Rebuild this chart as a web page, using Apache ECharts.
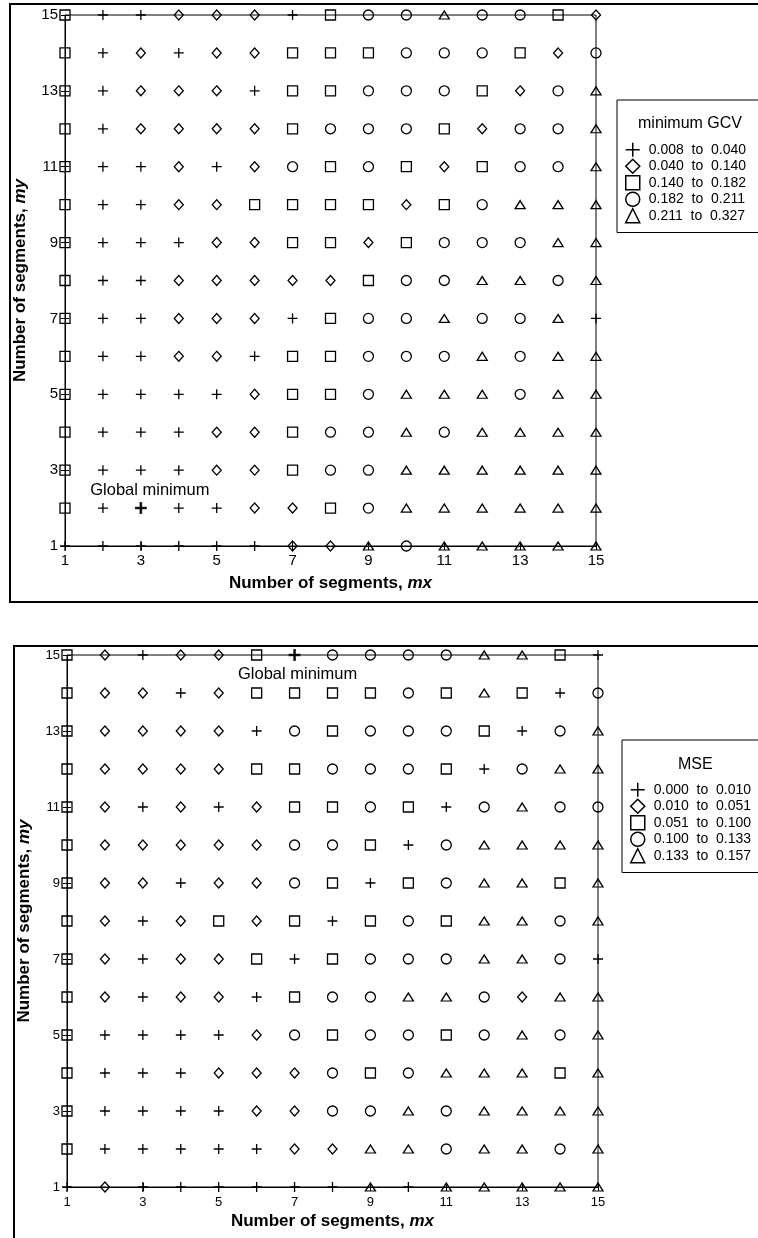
<!DOCTYPE html>
<html>
<head>
<meta charset="utf-8">
<script src="https://cdn.jsdelivr.net/npm/echarts@6/dist/echarts.min.js"></script>
<style>
html,body{margin:0;padding:0;background:#fff;}
#c{width:758px;height:1238px;}
</style>
</head>
<body>
<div id="c"></div>
<script>
// ---------------- DATA ----------------
const mxValues = [1,2,3,4,5,6,7,8,9,10,11,12,13,14,15];
const myValues = [15,14,13,12,11,10,9,8,7,6,5,4,3,2,1];
// class codes: P = plus, D = diamond, S = square, C = circle, T = triangle
const classCodes = ['P','D','S','C','T'];

const gcvTitle = 'minimum GCV';
const gcvRanges = ['0.008  to  0.040','0.040  to  0.140','0.140  to  0.182','0.182  to  0.211','0.211  to  0.327'];
// rows: my = 15 ... 1, characters: mx = 1 ... 15
const gcvRows = [
  'SPPDDDPSCCTCCSD',
  'SPDPDDSSSCCCSDC',
  'SPDDDPSSCCCSDCT',
  'SPDDDDSCCCSDCCT',
  'SPPDPDCSCSDSCCT',
  'SPPDDSSSSDSCTTT',
  'SPPPDDSSDSCCCTT',
  'SPPDDDDDSCCTTCT',
  'SPPDDDPSCCTCCTP',
  'SPPDDPSSCCCTCTT',
  'SPPPPDSSCTTTCTT',
  'SPPPDDSCCTCTTTT',
  'SPPPDDSCCTTTTTT',
  'SPPPPDDSCTTTTTT',
  'PPPPPPDDTCTTTTT'
];
const gcvGlobalMin = [3, 2];

const mseTitle = 'MSE';
const mseRanges = ['0.000  to  0.010','0.010  to  0.051','0.051  to  0.100','0.100  to  0.133','0.133  to  0.157'];
const mseRows = [
  'SDPDDSPCCCCTTSP',
  'SDDPDSSSSCSTSPC',
  'SDDDDPCSCCCSPCT',
  'SDDDDSSCCCSPCTT',
  'SDPDPDSSCSPCTCC',
  'SDDDDDCCSPCTTTT',
  'SDDPDDCSPSCTTST',
  'SDPDSDSPSCSTTCT',
  'SDPDDSPSCCCTTCP',
  'SDPDDPSCCTTCDTT',
  'SPPPPDCSCCSCTCT',
  'SPPPDDDCSCTTTST',
  'SPPPPDDCCTCTTTT',
  'SPPPPPDDTTCTTCT',
  'PDPPPPPPTPTTTTT'
];
const mseGlobalMin = [7, 15];

const axisTitleX = 'Number of segments, ';
const axisTitleXItalic = 'mx';
const axisTitleY = 'Number of segments, ';
const axisTitleYItalic = 'my';
const globalMinText = 'Global minimum';

// ---------------- STYLE ----------------
const FONT = '"Liberation Sans", Arial, Helvetica, sans-serif';
const symbolDefs = [
  { symbol: 'path://M5,0L5,10M0,5L10,5', size: 10 },
  { symbol: 'diamond', size: [9, 10] },
  { symbol: 'rect', size: 10 },
  { symbol: 'circle', size: 10 },
  { symbol: 'triangle', size: [10, 8] }
];

function cellsOf(rows, code) {
  const out = [];
  rows.forEach((row, r) => {
    for (let c = 0; c < row.length; c++) {
      if (row[c] === code) out.push([mxValues[c], myValues[r]]);
    }
  });
  return out;
}

const charts = [
  { rows: gcvRows, ranges: gcvRanges, gmin: gcvGlobalMin, labelPos: 'top', labelOffset: [9, 3] },
  { rows: mseRows, ranges: mseRanges, gmin: mseGlobalMin, labelPos: 'bottom', labelOffset: [3, -1] }
];

const grids = [
  { left: 65, top: 15, width: 531, height: 531 },
  { left: 67, top: 655, width: 531, height: 532 }
];
const tickFont = [15, 13];
const xNameGap = [29, 26];
const yNameGap = [36, 34];
const xLabelMargin = [7, 9];

function axisName(t, ti) {
  return '{b|' + t + '}{bi|' + ti + '}';
}
const nameRich = {
  b: { fontWeight: 'bold', fontSize: 17, fontFamily: FONT, color: '#000' },
  bi: { fontWeight: 'bold', fontStyle: 'italic', fontSize: 17, fontFamily: FONT, color: '#000' }
};

const xAxes = [], yAxes = [], series = [];
grids.forEach((g, gi) => {
  xAxes.push({
    type: 'value', gridIndex: gi, min: 1, max: 15, interval: 2, position: 'bottom',
    axisLine: { onZero: false, lineStyle: { color: '#000', width: 1 } },
    axisTick: { length: 4, lineStyle: { color: '#000', width: 1 } },
    axisLabel: { color: '#000', fontSize: tickFont[gi], fontFamily: FONT, margin: xLabelMargin[gi] },
    splitLine: { show: false },
    name: axisName(axisTitleX, axisTitleXItalic), nameLocation: 'middle', nameGap: xNameGap[gi],
    nameTextStyle: { rich: nameRich }
  });
  xAxes.push({
    type: 'value', gridIndex: gi, min: 1, max: 15, interval: 2, position: 'bottom', offset: 0,
    axisLine: { show: false, onZero: false },
    axisTick: { inside: true, length: 4, lineStyle: { color: '#000', width: 1 } },
    axisLabel: { show: false }, splitLine: { show: false }
  });
  yAxes.push({
    type: 'value', gridIndex: gi, min: 1, max: 15, interval: 2, position: 'left',
    axisLine: { onZero: false, lineStyle: { color: '#000', width: 1 } },
    axisTick: { length: 4, lineStyle: { color: '#000', width: 1 } },
    axisLabel: { color: '#000', fontSize: tickFont[gi], fontFamily: FONT, margin: 7 },
    splitLine: { show: false },
    name: axisName(axisTitleY, axisTitleYItalic), nameLocation: 'middle', nameGap: yNameGap[gi],
    nameRotate: 90, nameTextStyle: { rich: nameRich }
  });
  yAxes.push({
    type: 'value', gridIndex: gi, min: 1, max: 15, interval: 2, position: 'left', offset: 0,
    axisLine: { show: false, onZero: false },
    axisTick: { inside: true, length: 4, lineStyle: { color: '#000', width: 1 } },
    axisLabel: { show: false }, splitLine: { show: false }
  });
});

charts.forEach((ch, ci) => {
  classCodes.forEach((code, k) => {
    series.push({
      type: 'scatter', name: ch.ranges[k],
      xAxisIndex: ci * 2, yAxisIndex: ci * 2,
      symbol: symbolDefs[k].symbol, symbolSize: symbolDefs[k].size,
      itemStyle: { color: 'transparent', borderColor: '#000', borderWidth: 1.3, opacity: 1 },
      emphasis: { disabled: true },
      data: cellsOf(ch.rows, code),
      z: 3
    });
  });
  series.push({
    type: 'scatter', name: 'global-min-' + ci,
    xAxisIndex: ci * 2, yAxisIndex: ci * 2,
    symbol: symbolDefs[0].symbol, symbolSize: 12,
    itemStyle: { color: '#000', borderColor: '#000', borderWidth: 2.6 },
    emphasis: { disabled: true },
    label: {
      show: true, position: ch.labelPos, distance: 5, offset: ch.labelOffset,
      formatter: globalMinText, color: '#000', opacity: 1, fontSize: 16.5, fontFamily: FONT,
      textBorderWidth: 0
    },
    data: [ch.gmin], z: 4
  });
});

const legendCommon = {
  orient: 'vertical', itemWidth: 14, itemHeight: 14, itemGap: 1,
  borderColor: '#000', borderWidth: 1, selectedMode: false,
  textStyle: { fontSize: 14, lineHeight: 14, color: '#000', fontFamily: FONT, padding: [0, 0, 0, 4] },
  itemStyle: { borderWidth: 1.5 }
};

const option = {
  backgroundColor: '#fff',
  animation: false,
  grid: grids.map(g => Object.assign({ show: true, borderColor: '#000', borderWidth: 1, backgroundColor: 'transparent' }, g)),
  xAxis: xAxes,
  yAxis: yAxes,
  series: series,
  title: [
    { text: gcvTitle, left: 638, top: 116, padding: 0, textStyle: { fontSize: 16, fontWeight: 'normal', color: '#000', fontFamily: FONT } },
    { text: mseTitle, left: 678, top: 757, padding: 0, textStyle: { fontSize: 16, fontWeight: 'normal', color: '#000', fontFamily: FONT } }
  ],
  legend: [
    Object.assign({}, legendCommon, { data: gcvRanges, left: 617, top: 100, padding: [42, 60, 9, 8] }),
    Object.assign({}, legendCommon, { data: mseRanges, left: 622, top: 740, padding: [42, 60, 9, 8] })
  ],
  graphic: [
    { type: 'rect', shape: { x: 10, y: 4, width: 820, height: 598 }, style: { fill: 'none', stroke: '#000', lineWidth: 2 }, z: 10, silent: true },
    { type: 'rect', shape: { x: 14, y: 646, width: 820, height: 700 }, style: { fill: 'none', stroke: '#000', lineWidth: 2 }, z: 10, silent: true }
  ]
};

const chart = echarts.init(document.getElementById('c'), null, { renderer: 'canvas' });
chart.setOption(option);
</script>
</body>
</html>
